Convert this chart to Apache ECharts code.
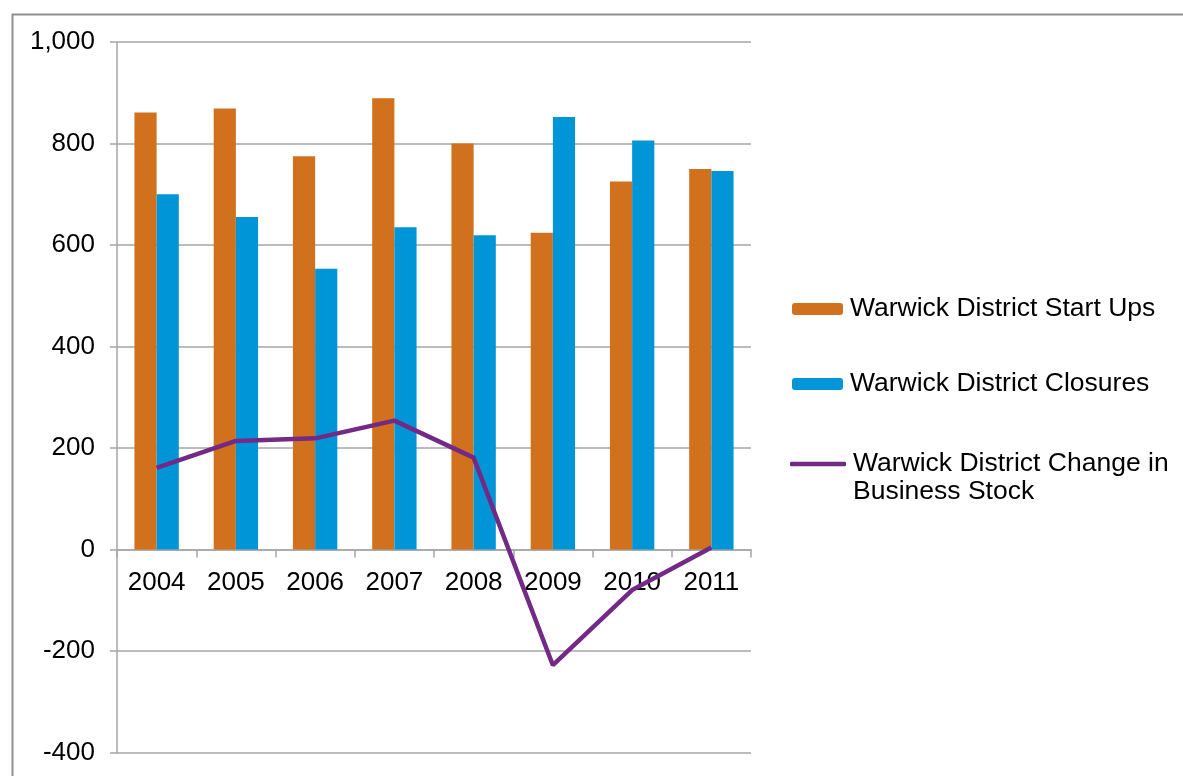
<!DOCTYPE html>
<html>
<head>
<meta charset="utf-8">
<title>Warwick District Business Start Ups and Closures</title>
<script src="https://cdn.jsdelivr.net/npm/echarts@6/dist/echarts.min.js"></script>
<style>
  html, body { margin: 0; padding: 0; background: #ffffff; }
  #chart { width: 1183px; height: 776px; }
</style>
</head>
<body>
<div id="chart"></div>
<script>
// Years shown along the category axis
const years = ['2004', '2005', '2006', '2007', '2008', '2009', '2010', '2011'];

// Business start ups per year
const startUps = [861, 869, 775, 889, 800, 624, 725, 750];

// Business closures per year
const closures = [700, 655, 553, 635, 619, 852, 806, 746];

// Net change in business stock (start ups minus closures)
const changeInStock = [161, 214, 219, 254, 181, -228, -80, 4];

// Value axis range
const yMin = -400;
const yMax = 1000;
const yStep = 200;

const seriesNames = [
  'Warwick District Start Ups',
  'Warwick District Closures',
  'Warwick District Change in Business Stock'
];

const FONT = '"Liberation Sans", Arial, sans-serif';
const AXIS_GREY = '#a6a6a6';
const PURPLE = '#722a86';

// Plot box in pixels
const GRID_TOP = 42;
const GRID_BOTTOM = 23.5;
const CHART_H = 776;
const plotH = CHART_H - GRID_TOP - GRID_BOTTOM;
// Distance from the bottom of the plot up to the zero line, so the category axis sits on zero
const zeroLift = plotH * (0 - yMin) / (yMax - yMin);

const chart = echarts.init(document.getElementById('chart'), null, { renderer: 'canvas' });

const legendText = {
  fontFamily: FONT, fontSize: 26.5, color: '#000000', lineHeight: 28,
  padding: [0, 0, 0, 2]
};

const option = {
  animation: false,
  backgroundColor: '#ffffff',
  graphic: [{
    type: 'rect',
    left: 10,
    top: 12,
    shape: { width: 1200, height: 800 },
    style: { fill: 'none', stroke: '#8f8f8f', lineWidth: 2 },
    silent: true
  }],
  grid: {
    left: 117, right: 432, top: GRID_TOP, bottom: GRID_BOTTOM,
    containLabel: false, outerBoundsMode: 'none'
  },
  legend: [
    {
      data: [seriesNames[0]],
      left: 792, top: 295, padding: 0,
      itemWidth: 51, itemHeight: 12,
      textStyle: legendText
    },
    {
      data: [seriesNames[1]],
      left: 792, top: 370, padding: 0,
      itemWidth: 51, itemHeight: 12,
      textStyle: legendText
    },
    {
      data: [{ name: seriesNames[2], icon: 'roundRect' }],
      left: 790, top: 422, padding: 0,
      itemWidth: 56, itemHeight: 4.5,
      formatter: () => '\nWarwick District Change in\nBusiness Stock',
      textStyle: legendText
    }
  ],
  xAxis: {
    type: 'category',
    data: years,
    boundaryGap: true,
    position: 'bottom',
    offset: -zeroLift,
    axisLine: { onZero: false, lineStyle: { color: AXIS_GREY, width: 1.5 } },
    axisTick: { show: true, alignWithLabel: false, length: 8, lineStyle: { color: AXIS_GREY, width: 1.5 } },
    axisLabel: { fontFamily: FONT, fontSize: 26, color: '#000000', margin: 20 },
    splitLine: { show: false }
  },
  yAxis: {
    type: 'value',
    min: yMin,
    max: yMax,
    interval: yStep,
    axisLine: { show: true, lineStyle: { color: AXIS_GREY, width: 1.5 } },
    axisTick: { show: true, length: 7, lineStyle: { color: AXIS_GREY, width: 1.5 } },
    axisLabel: {
      fontFamily: FONT, fontSize: 26, color: '#000000', margin: 22,
      formatter: v => v.toLocaleString('en-US')
    },
    splitLine: { show: true, lineStyle: { color: AXIS_GREY, width: 1.5 } }
  },
  series: [
    {
      name: seriesNames[0],
      type: 'bar',
      data: startUps,
      barGap: '0%',
      barCategoryGap: '44%',
      itemStyle: { color: '#d1711d' }
    },
    {
      name: seriesNames[1],
      type: 'bar',
      data: closures,
      barGap: '0%',
      barCategoryGap: '44%',
      itemStyle: { color: '#0095d6' }
    },
    {
      name: seriesNames[2],
      type: 'line',
      data: changeInStock,
      symbol: 'none',
      lineStyle: { color: PURPLE, width: 4.5 },
      itemStyle: { color: PURPLE },
      z: 5
    }
  ]
};

chart.setOption(option);
</script>
</body>
</html>
